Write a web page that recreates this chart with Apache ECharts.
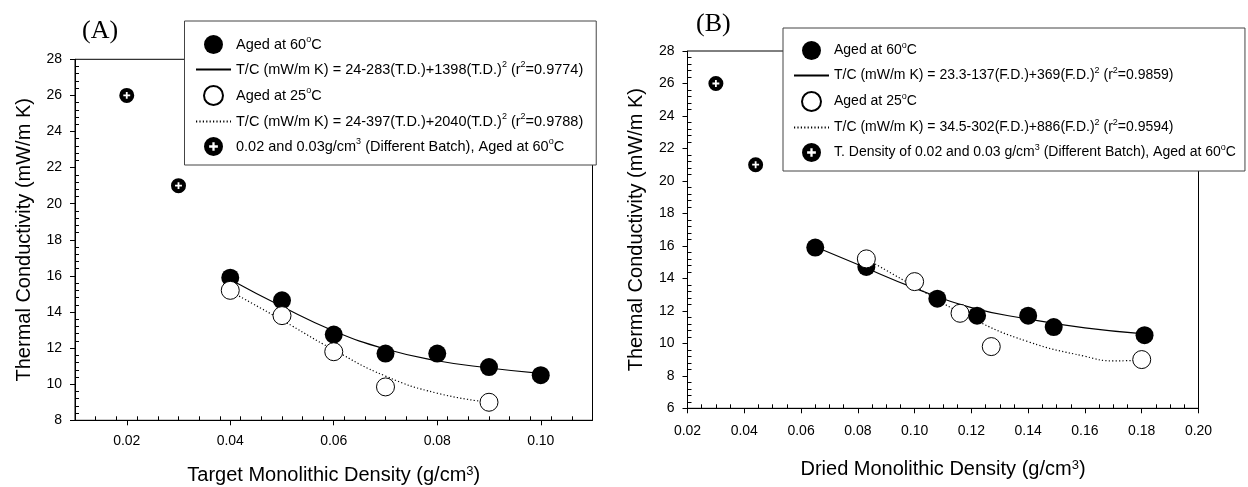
<!DOCTYPE html>
<html>
<head>
<meta charset="utf-8">
<script src="https://cdn.jsdelivr.net/npm/echarts@6/dist/echarts.min.js"></script>
<style>
  html, body { margin: 0; padding: 0; background: #fff; }
  #chart { width: 1248px; height: 487px; }
</style>
</head>
<body>
<div id="chart"></div>
<script>
// ---- Panel A: thermal conductivity vs target monolithic density ----
const tdA60 = [0.04, 0.05, 0.06, 0.07, 0.08, 0.09, 0.10];
const tcA60 = [15.9, 14.65, 12.75, 11.7, 11.7, 10.95, 10.5];
const tdA25 = [0.04, 0.05, 0.06, 0.07, 0.09];
const tcA25 = [15.2, 13.8, 11.8, 9.85, 9.0];
const tdAB = [0.02, 0.03];
const tcAB = [26, 21];
const fitA60X = [0.04, 0.05, 0.06, 0.07, 0.08, 0.09, 0.10];
const fitA60Y = [15.8, 14.3, 12.95, 11.95, 11.3, 10.9, 10.6];
const fitA25X = [0.04, 0.05, 0.06, 0.07, 0.08, 0.09];
const fitA25Y = [15.15, 13.55, 11.9, 10.45, 9.5, 9.0];

// ---- Panel B: thermal conductivity vs dried monolithic density ----
const fdB60 = [0.065, 0.083, 0.108, 0.122, 0.14, 0.149, 0.181];
const tcB60 = [15.9, 14.7, 12.75, 11.7, 11.7, 11.0, 10.5];
const fdB25 = [0.083, 0.10, 0.116, 0.127, 0.18];
const tcB25 = [15.2, 13.8, 11.85, 9.8, 9.0];
const fdBB = [0.03, 0.044];
const tcBB = [26, 21];
const fitB60X = [0.065, 0.08, 0.10, 0.12, 0.14, 0.16, 0.18];
const fitB60Y = [15.95, 14.85, 13.4, 12.2, 11.5, 10.95, 10.6];
const fitB25X = [0.083, 0.10, 0.12, 0.14, 0.16, 0.17, 0.18];
const fitB25Y = [15.2, 13.5, 11.55, 10.1, 9.2, 8.92, 8.97];

// ---- tick labels ----
const xTicksA = [0.02, 0.04, 0.06, 0.08, 0.10];
const xTicksB = [0.02, 0.04, 0.06, 0.08, 0.10, 0.12, 0.14, 0.16, 0.18, 0.20];

// ---- legend texts ({s|..} = superscript) ----
const legendKeysA = ['A60', 'AF60', 'A25', 'AF25', 'AB'];
const legendTextA = [
  'Aged at 60{s|o}C',
  'T/C (mW/m K) = 24-283(T.D.)+1398(T.D.){s|2} (r{s|2}=0.9774)',
  'Aged at 25{s|o}C',
  'T/C (mW/m K) = 24-397(T.D.)+2040(T.D.){s|2} (r{s|2}=0.9788)',
  '0.02 and 0.03g/cm{s|3} (Different Batch), Aged at 60{s|o}C'
];
const legendKeysB = ['B60', 'BF60', 'B25', 'BF25', 'BB'];
const legendTextB = [
  'Aged at 60{s|o}C',
  'T/C (mW/m K) = 23.3-137(F.D.)+369(F.D.){s|2} (r{s|2}=0.9859)',
  'Aged at 25{s|o}C',
  'T/C (mW/m K) = 34.5-302(F.D.)+886(F.D.){s|2} (r{s|2}=0.9594)',
  'T. Density of 0.02 and 0.03 g/cm{s|3} (Different Batch), Aged at 60{s|o}C'
];
const fitKeys = ['AF60', 'AF25', 'BF60', 'BF25'];

const FONT = '"Liberation Sans", Arial, sans-serif';
const SERIF = '"Liberation Serif", "Times New Roman", serif';

const zip = (xs, ys) => xs.map((x, i) => [x, ys[i]]);

// minor tick positions for panel A x axis (every 0.004 between majors)
const minorA = [];
for (let k = 0; k <= 25; k++) {
  const v = Math.round((0.01 + k * 0.004) * 1000) / 1000;
  if (v > 0.01 && v < 0.11 && !xTicksA.some(t => Math.abs(t - v) < 1e-9)) minorA.push(v);
}

// filled circle with a "+" knocked out
const plusDot = 'path://M0,-10A10,10,0,1,1,0,10A10,10,0,1,1,0,-10Z' +
  'M1.2,-4.6L-1.2,-4.6L-1.2,-1.2L-4.6,-1.2L-4.6,1.2L-1.2,1.2L-1.2,4.6L1.2,4.6L1.2,1.2L4.6,1.2L4.6,-1.2L1.2,-1.2Z';

const labelMap = {};
legendKeysA.forEach((k, i) => labelMap[k] = legendTextA[i]);
legendKeysB.forEach((k, i) => labelMap[k] = legendTextB[i]);

function legendFor(keys, left, top, padding, fontSize) {
  return {
    // fit-line entries show only the line sample, no marker
    data: keys.map(k => fitKeys.includes(k) ? { name: k, itemStyle: { opacity: 0 } } : k),
    orient: 'vertical',
    left: left,
    top: top,
    padding: padding,
    itemGap: 6,
    itemWidth: 35,
    itemHeight: 19,
    selectedMode: false,
    backgroundColor: '#fff',
    borderColor: '#444',
    borderWidth: 1,
    formatter: n => labelMap[n],
    textStyle: {
      fontFamily: FONT, fontSize: fontSize, color: '#000', lineHeight: 19,
      rich: { s: { fontSize: 9, fontFamily: FONT, color: '#000', verticalAlign: 'top', lineHeight: 12 } }
    }
  };
}

const axisLineStyle = { color: '#000', width: 1 };
const nameRich = { s: { fontSize: 13, fontFamily: FONT, color: '#000', verticalAlign: 'top', lineHeight: 15 } };

function yAxisFor(grid, min, max) {
  return {
    type: 'value', gridIndex: grid, min: min, max: max, interval: 2,
    name: 'Thermal Conductivity (mW/m K)',
    nameLocation: 'middle', nameGap: 41,
    nameTextStyle: { fontFamily: FONT, fontSize: 20, color: '#000' },
    axisLine: { show: true, lineStyle: axisLineStyle },
    axisTick: { show: true, length: 5, lineStyle: axisLineStyle },
    minorTick: { show: true, splitNumber: 5, length: -4, lineStyle: axisLineStyle },
    axisLabel: { fontFamily: FONT, fontSize: 14, color: '#000', margin: 13 },
    splitLine: { show: false }
  };
}

function scatter(name, xi, yi, data, filled) {
  return {
    name: name, type: 'scatter', xAxisIndex: xi, yAxisIndex: yi,
    data: data, symbol: 'circle', symbolSize: 18, z: filled ? 3 : 4,
    itemStyle: filled ? { color: '#000', opacity: 1 } : { color: '#fff', borderColor: '#000', borderWidth: 1, opacity: 1 }
  };
}
function batch(name, xi, yi, data) {
  return {
    name: name, type: 'scatter', xAxisIndex: xi, yAxisIndex: yi,
    data: data, symbol: plusDot, symbolSize: 15, symbolKeepAspect: true, z: 4,
    itemStyle: { color: '#000', opacity: 1 }
  };
}
function fit(name, xi, yi, data, dotted) {
  return {
    name: name, type: 'line', xAxisIndex: xi, yAxisIndex: yi,
    data: data, symbol: 'none', smooth: 0.5, z: 2,
    itemStyle: { color: '#000' },
    lineStyle: dotted ? { color: '#000', width: 1.2, type: [1.2, 2.2] } : { color: '#000', width: 1.1 }
  };
}

const chart = echarts.init(document.getElementById('chart'), null, { renderer: 'canvas' });
chart.setOption({
  backgroundColor: '#fff',
  animation: false,
  title: [
    { text: '(A)', left: 82, top: 18, padding: 0, textStyle: { fontFamily: SERIF, fontSize: 26, fontWeight: 'normal', color: '#000' } },
    { text: '(B)', left: 696, top: 11, padding: 0, textStyle: { fontFamily: SERIF, fontSize: 26, fontWeight: 'normal', color: '#000' } }
  ],
  grid: [
    { left: 75, right: 655.5, top: 59.3, bottom: 66.7, outerBoundsMode: 'none', show: true, borderColor: '#000', borderWidth: 1, backgroundColor: 'transparent' },
    { left: 687.5, right: 49.5, top: 51, bottom: 78.7, outerBoundsMode: 'none', show: true, borderColor: '#000', borderWidth: 1, backgroundColor: 'transparent' }
  ],
  legend: [
    legendFor(legendKeysA, 184.5, 21, [14, 13, 9, 10.5], 14.5),
    legendFor(legendKeysB, 783, 28, [13, 9, 9, 10], 14)
  ],
  xAxis: [
    {
      type: 'value', gridIndex: 0, min: 0.01, max: 0.11,
      name: 'Target Monolithic Density (g/cm{s|3})',
      nameLocation: 'middle', nameGap: 45,
      nameTextStyle: { fontFamily: FONT, fontSize: 20, color: '#000', rich: nameRich },
      axisLine: { show: true, onZero: false, lineStyle: axisLineStyle },
      axisTick: { show: true, length: 5, customValues: xTicksA, lineStyle: axisLineStyle },
      axisLabel: { customValues: xTicksA, formatter: v => v.toFixed(2), fontFamily: FONT, fontSize: 14, color: '#000', margin: 14 },
      splitLine: { show: false }
    },
    {
      type: 'value', gridIndex: 0, min: 0.01, max: 0.11, position: 'bottom',
      axisLine: { show: false, onZero: false },
      axisTick: { show: true, inside: true, length: 4, customValues: minorA, lineStyle: axisLineStyle },
      axisLabel: { show: false },
      splitLine: { show: false }
    },
    {
      type: 'value', gridIndex: 1, min: 0.02, max: 0.20, interval: 0.02,
      name: 'Dried Monolithic Density (g/cm{s|3})',
      nameLocation: 'middle', nameGap: 51,
      nameTextStyle: { fontFamily: FONT, fontSize: 20, color: '#000', rich: nameRich },
      axisLine: { show: true, onZero: false, lineStyle: axisLineStyle },
      axisTick: { show: true, length: 5, lineStyle: axisLineStyle },
      minorTick: { show: true, splitNumber: 4, length: -4, lineStyle: axisLineStyle },
      axisLabel: { customValues: xTicksB, formatter: v => v.toFixed(2), fontFamily: FONT, fontSize: 14, color: '#000', margin: 16 },
      splitLine: { show: false }
    }
  ],
  yAxis: [yAxisFor(0, 8, 28), yAxisFor(1, 6, 28)],
  series: [
    fit('AF60', 0, 0, zip(fitA60X, fitA60Y), false),
    fit('AF25', 0, 0, zip(fitA25X, fitA25Y), true),
    scatter('A60', 0, 0, zip(tdA60, tcA60), true),
    scatter('A25', 0, 0, zip(tdA25, tcA25), false),
    batch('AB', 0, 0, zip(tdAB, tcAB)),

    fit('BF60', 2, 1, zip(fitB60X, fitB60Y), false),
    fit('BF25', 2, 1, zip(fitB25X, fitB25Y), true),
    scatter('B60', 2, 1, zip(fdB60, tcB60), true),
    scatter('B25', 2, 1, zip(fdB25, tcB25), false),
    batch('BB', 2, 1, zip(fdBB, tcBB))
  ]
});
</script>
</body>
</html>
